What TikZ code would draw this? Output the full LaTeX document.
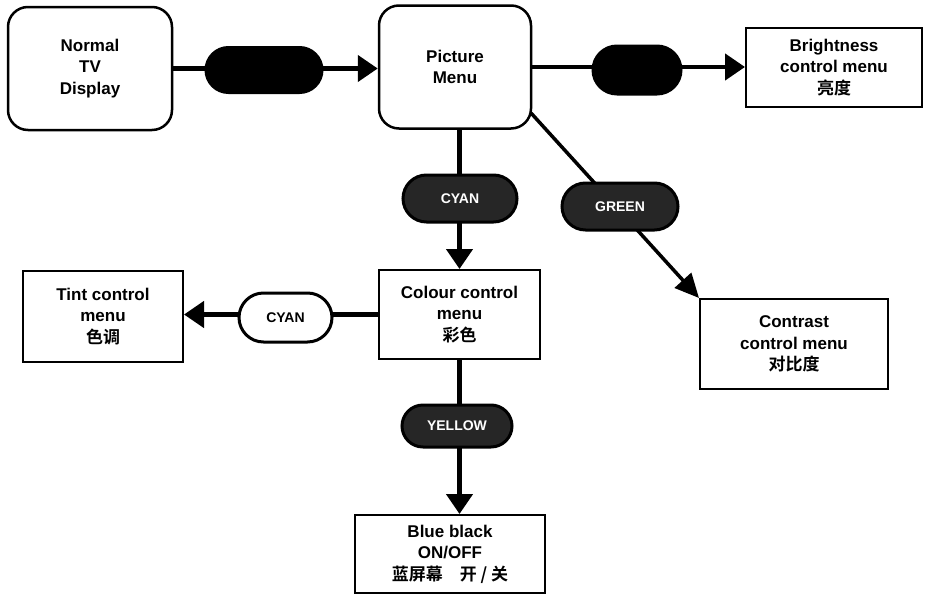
\documentclass[tikz,border=0pt]{standalone}
\usepackage{fontspec}
\setmainfont{Liberation Sans}
\newfontfamily\cjk{Noto Sans CJK SC}[BoldFont={Noto Sans CJK SC Bold}]
\usetikzlibrary{arrows.meta,shapes.misc}
\begin{document}
\begin{tikzpicture}[x=1pt,y=-1pt,
  txt/.style={align=center, inner sep=0pt, font=\bfseries\fontsize{17}{21.5}\selectfont},
  rbox/.style={txt, draw, line width=2.5pt, rounded corners=20pt},
  sbox/.style={txt, draw, line width=2pt},
  arr/.style={line width=4.5pt, -{Triangle[length=20pt,width=26pt]}},
  darr/.style={line width=3.5pt, -{Triangle[length=24pt,width=22pt]}},
  pill/.style={rounded rectangle, draw, line width=3pt, fill=black, inner sep=0pt,
    font=\bfseries\fontsize{14}{14}\selectfont, text=white},
  lpill/.style={pill, fill=white, text=black}]
\useasboundingbox (0,0) rectangle (926,605);
% boxes
\node[rbox, minimum width=164, minimum height=123] (ntv) at (90,68.5) {Normal\\TV\\Display};
\node[rbox, minimum width=152, minimum height=123] (pm) at (455,67) {Picture\\Menu};
\node[sbox, minimum width=176, minimum height=79] (br) at (834,67.5) {Brightness\\control menu\\{\cjk\bfseries 亮度}};
\node[sbox, minimum width=161, minimum height=89] (cc) at (459.5,314.5) {Colour control\\menu\\{\cjk\bfseries 彩色}};
\node[sbox, minimum width=160, minimum height=91] (tc) at (103,316.5) {Tint control\\menu\\{\cjk\bfseries 色调}};
\node[sbox, minimum width=188, minimum height=90] (ct) at (794,344) {Contrast\\control menu\\{\cjk\bfseries 对比度}};
\node[sbox, minimum width=190, minimum height=78] (bb) at (450,554) {Blue black\\ON/OFF\\{\cjk\bfseries 蓝屏幕\quad 开 / 关}};
% connectors
\coordinate (d1) at (531,113);
\draw[arr] (ntv.east) -- (ntv.east -| pm.west);
\draw[arr] (pm.east) -- (pm.east -| br.west);
\draw[arr] (pm.south -| cc.north) -- (cc.north);
\draw[darr] (d1) -- (ct.north west);
\draw[arr] (cc.west) -- (cc.west -| tc.east);
\draw[arr] (cc.south) -- (cc.south |- bb.north);
% pills
\node[pill, minimum width=116, minimum height=45] (p1) at (264,70) {};
\node[pill, minimum width=88, minimum height=48] (p2) at (637,70) {};
\node[pill, fill=black!85, minimum width=114, minimum height=47] (p3) at (460,198.5) {CYAN};
\node[pill, fill=black!85, minimum width=116, minimum height=47] (p4) at (620,206.5) {GREEN};
\node[pill, fill=black!85, minimum width=110, minimum height=42] (p5) at (457,426) {YELLOW};
\node[lpill, minimum width=93, minimum height=49] (p6) at (285.5,317.5) {CYAN};
\end{tikzpicture}
\end{document}
